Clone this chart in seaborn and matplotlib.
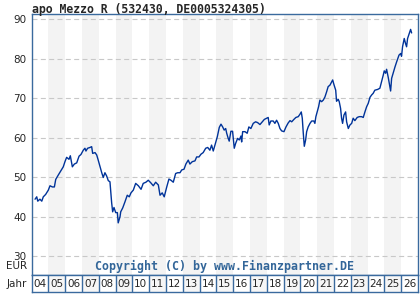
import pandas as pd
import matplotlib
matplotlib.use("Agg")
import matplotlib.pyplot as plt
import seaborn as sns

# Kursverlauf (Zeit in Jahren, Kurs in EUR)
years = [
    2004.20, 2004.30, 2004.36, 2004.49, 2004.60, 2004.69, 2004.83, 2004.99, 2005.09, 2005.23,
    2005.35, 2005.43, 2005.58, 2005.74, 2005.88, 2005.98, 2006.08, 2006.22, 2006.30, 2006.42,
    2006.54, 2006.68, 2006.82, 2006.93, 2007.07, 2007.17, 2007.23, 2007.33, 2007.47, 2007.57,
    2007.63, 2007.77, 2007.87, 2007.96, 2008.07, 2008.17, 2008.26, 2008.36, 2008.46, 2008.56,
    2008.66, 2008.76, 2008.82, 2008.90, 2009.00, 2009.10, 2009.15, 2009.26, 2009.30, 2009.42,
    2009.55, 2009.69, 2009.81, 2009.91, 2010.05, 2010.19, 2010.35, 2010.51, 2010.64, 2010.80,
    2010.94, 2011.08, 2011.24, 2011.38, 2011.54, 2011.64, 2011.77, 2011.89, 2012.04, 2012.17,
    2012.29, 2012.43, 2012.57, 2012.69, 2012.83, 2012.93, 2013.07, 2013.18, 2013.32, 2013.42,
    2013.56, 2013.72, 2013.82, 2013.96, 2014.08, 2014.21, 2014.36, 2014.48, 2014.61, 2014.71,
    2014.81, 2014.95, 2015.05, 2015.17, 2015.27, 2015.37, 2015.46, 2015.55, 2015.61, 2015.70,
    2015.76, 2015.86, 2015.96, 2016.06, 2016.14, 2016.26, 2016.36, 2016.46, 2016.50, 2016.56,
    2016.70, 2016.83, 2016.93, 2017.05, 2017.19, 2017.33, 2017.45, 2017.59, 2017.73, 2017.85,
    2017.99, 2018.08, 2018.14, 2018.24, 2018.38, 2018.48, 2018.58, 2018.68, 2018.78, 2018.88,
    2019.02, 2019.14, 2019.27, 2019.38, 2019.48, 2019.61, 2019.73, 2019.87, 2019.97, 2020.05,
    2020.11, 2020.17, 2020.23, 2020.31, 2020.37, 2020.46, 2020.57, 2020.67, 2020.80, 2020.86,
    2020.92, 2021.00, 2021.08, 2021.16, 2021.26, 2021.36, 2021.46, 2021.56, 2021.65, 2021.76,
    2021.86, 2021.92, 2021.99, 2022.10, 2022.15, 2022.25, 2022.31, 2022.39, 2022.45, 2022.51,
    2022.59, 2022.69, 2022.75, 2022.85, 2022.95, 2023.05, 2023.14, 2023.24, 2023.38, 2023.50,
    2023.64, 2023.74, 2023.84, 2023.94, 2024.04, 2024.14, 2024.24, 2024.33, 2024.43, 2024.60,
    2024.73, 2024.83, 2024.93, 2024.99, 2025.07, 2025.13, 2025.23, 2025.29, 2025.37, 2025.43,
    2025.52, 2025.63, 2025.73, 2025.87, 2025.97, 2026.02, 2026.08, 2026.18, 2026.26, 2026.32,
    2026.38, 2026.48, 2026.56, 2026.62,
]
values = [
    44.4, 45.0, 43.9, 44.4, 43.9, 45.0, 45.6, 46.7, 47.8, 47.5,
    47.5, 49.4, 50.5, 51.6, 52.6, 53.9, 55.0, 54.5, 55.4, 52.6,
    53.3, 53.6, 55.3, 55.7, 56.8, 57.3, 56.6, 57.3, 57.5, 57.7,
    56.0, 56.2, 55.6, 54.3, 52.6, 51.1, 49.9, 51.1, 50.3, 49.1,
    48.8, 43.5, 41.2, 42.3, 41.0, 41.0, 38.4, 40.0, 41.2, 42.2,
    43.7, 45.4, 45.0, 46.0, 46.7, 48.4, 47.8, 46.9, 48.4, 48.7,
    49.2, 48.6, 47.8, 48.7, 48.0, 45.4, 46.0, 45.0, 47.5, 49.5,
    49.2, 48.7, 50.9, 51.1, 51.1, 51.8, 52.0, 53.3, 54.3, 53.3,
    53.9, 54.1, 55.1, 55.1, 55.8, 56.2, 57.3, 57.5, 56.8, 58.1,
    56.6, 58.7, 60.2, 62.6, 63.4, 62.7, 61.9, 62.3, 61.1, 59.8,
    59.1, 61.6, 61.6, 57.3, 58.5, 59.8, 59.4, 60.4, 58.9, 61.5,
    61.5, 61.1, 62.7, 62.3, 63.6, 64.0, 63.8, 63.3, 64.0, 64.6,
    64.9, 65.1, 63.2, 64.2, 64.2, 63.6, 64.4, 63.6, 62.3, 61.7,
    61.5, 62.7, 63.7, 64.3, 64.0, 64.6, 65.1, 65.3, 65.9, 66.5,
    64.9, 61.1, 57.8, 59.4, 61.5, 62.7, 63.6, 64.2, 64.2, 63.6,
    65.3, 66.5, 67.8, 69.5, 69.1, 69.5, 70.3, 71.6, 72.9, 73.3,
    74.1, 74.6, 73.5, 72.0, 69.2, 69.7, 69.1, 67.4, 64.9, 63.6,
    65.7, 66.5, 64.0, 62.3, 63.2, 63.6, 64.9, 64.3, 65.1, 65.3,
    65.3, 65.1, 66.5, 67.8, 68.7, 70.2, 70.8, 71.2, 72.0, 72.2,
    72.5, 74.1, 75.8, 76.9, 76.3, 77.3, 75.2, 73.7, 71.8, 75.0,
    76.3, 77.9, 79.2, 80.9, 81.3, 80.6, 83.0, 85.1, 83.8, 83.0,
    85.1, 86.4, 87.4, 86.5,
]
year_labels = ["04", "05", "06", "07", "08", "09", "10", "11", "12", "13", "14", "15",
               "16", "17", "18", "19", "20", "21", "22", "23", "24", "25", "26"]
y_ticks = [30, 40, 50, 60, 70, 80, 90]

frame_col = "#3a6a9e"
band_col = "#f3f3f3"

sns.set_style("white")
plt.rcParams["font.family"] = ["DejaVu Sans"]

df = pd.DataFrame({"jahr": years, "kurs": values})

fig = plt.figure(figsize=(4.2, 3.0), dpi=100)
ax = fig.add_axes([31.7 / 420, 25 / 300, 386.3 / 420, 261 / 300])
ax2 = fig.add_axes([31.7 / 420, 8 / 300, 386.3 / 420, 17 / 300])

x0, x1 = 2004, 2004 + len(year_labels)

# graue Bänder für jedes zweite Jahr
for i in range(1, len(year_labels), 2):
    ax.axvspan(2004 + i, 2005 + i, color=band_col, lw=0, zorder=0)
    ax2.axvspan(2004 + i, 2005 + i, color="#f6f6f6", lw=0, zorder=0)

for t in y_ticks:
    ax.axhline(t, color="#c8c8c8", lw=0.8, dashes=(4.5, 3), zorder=1)

sns.lineplot(data=df, x="jahr", y="kurs", ax=ax, color="#003399", lw=1.0, zorder=3)

ax.set_xlim(x0, x1)
ax.set_ylim(25.2, 91.3)
ax.set_yticks(y_ticks)
ax.set_yticklabels([str(t) for t in y_ticks], fontsize=7.5)
ax.tick_params(axis="y", length=0, pad=4)
ax.set_xticks([])
ax.set_xlabel("")
ax.set_ylabel("")
for s in ax.spines.values():
    s.set_color(frame_col)
    s.set_linewidth(1.0)

ax.text(-0.012, 25.2 + 2.4, "EUR", transform=ax.get_yaxis_transform(),
        ha="right", va="center", fontsize=7.5)
ax.text(0.5, 27.3, "Copyright (C) by www.Finanzpartner.DE", transform=ax.get_yaxis_transform(),
        ha="center", va="center", fontsize=8.4, color="#336699",
        fontweight="bold", family="DejaVu Sans Mono")

fig.text(31.7 / 420, 1 - 9 / 300, "apo Mezzo R (532430, DE0005324305)", ha="left", va="center",
         fontsize=8.3, fontweight="bold", family="DejaVu Sans Mono")

# Jahreszeile
ax2.set_xlim(x0, x1)
ax2.set_ylim(0, 1)
ax2.set_xticks([])
ax2.set_yticks([])
for s in ax2.spines.values():
    s.set_color(frame_col)
    s.set_linewidth(1.0)
for i, lab in enumerate(year_labels):
    if i > 0:
        ax2.axvline(2004 + i, color=frame_col, lw=1.0)
    ax2.text(2004.5 + i, 0.45, lab, ha="center", va="center", fontsize=7.5)
ax2.text(-0.012, 0.45, "Jahr", transform=ax2.transAxes, ha="right", va="center", fontsize=7.5)

fig.savefig("out.png", dpi=100)
